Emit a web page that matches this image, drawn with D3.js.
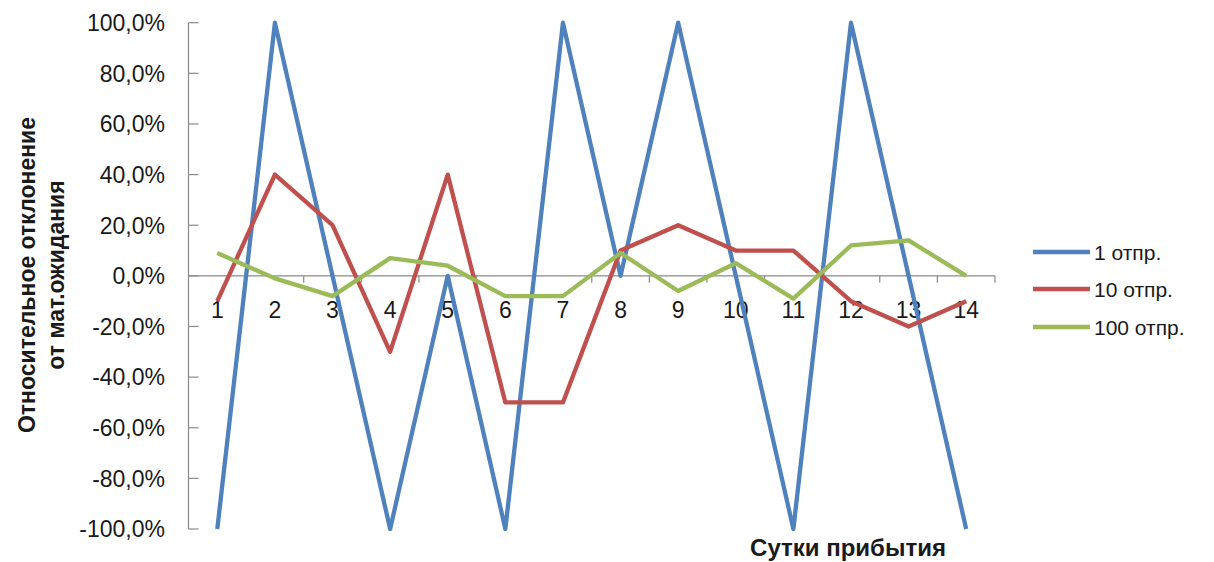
<!DOCTYPE html>
<html>
<head>
<meta charset="utf-8">
<script src="https://cdn.jsdelivr.net/npm/d3@7"></script>
<style>
  html, body { margin: 0; padding: 0; background: #fff; }
  svg { display: block; }
  text { font-family: "Liberation Sans", Arial, sans-serif; fill: #1a1a1a; }
</style>
</head>
<body>
<svg id="chart" width="1214" height="562"></svg>
<script>
// Arrival days (categories)
const days = [1, 2, 3, 4, 5, 6, 7, 8, 9, 10, 11, 12, 13, 14];

// Relative deviation from expectation, percent
const dev1 = [-100, 100, 0, -100, 0, -100, 100, 0, 100, 0, -100, 100, 0, -100];
const dev10 = [-10, 40, 20, -30, 40, -50, -50, 10, 20, 10, 10, -10, -20, -10];
const dev100 = [9, -1, -8, 7, 4, -8, -8, 9, -6, 5, -9, 12, 14, 0];

const seriesNames = ["1 отпр.", "10 отпр.", "100 отпр."];
const seriesColors = ["#4F81BD", "#C0504D", "#9BBB59"];
const yTicks = [-100, -80, -60, -40, -20, 0, 20, 40, 60, 80, 100];

const yTitleLines = ["Относительное отклонение", "от мат.ожидания"];
const xTitle = "Сутки прибытия";

const svg = d3.select("#chart");

const plot = { left: 188.5, right: 995, top: 22.7, bottom: 529 };

const x = d3.scaleBand().domain(days).range([plot.left, plot.right]);
const y = d3.scaleLinear().domain([-100, 100]).range([plot.bottom, plot.top]);

// "-20,0%" style: comma decimal separator, plain hyphen for negatives
const fmt = v => (v < 0 ? "-" : "") + Math.abs(v).toFixed(1).replace(".", ",") + "%";

// Vertical axis: line, inward ticks, labels on the left
const yAxis = svg.append("g");
yAxis.append("line")
  .attr("x1", plot.left).attr("x2", plot.left)
  .attr("y1", y(-100)).attr("y2", y(100))
  .attr("stroke", "#8a8a8a").attr("stroke-width", 1.2);
yAxis.selectAll("line.tick").data(yTicks).join("line")
  .attr("class", "tick")
  .attr("x1", plot.left).attr("x2", plot.left + 10)
  .attr("y1", d => y(d)).attr("y2", d => y(d))
  .attr("stroke", "#8a8a8a").attr("stroke-width", 1.2);
yAxis.selectAll("text").data(yTicks).join("text")
  .attr("x", 165).attr("y", d => y(d))
  .attr("dy", "0.36em")
  .attr("text-anchor", "end")
  .style("font-size", "23px")
  .text(fmt);

// Horizontal axis at zero with ticks between categories
const xAxis = svg.append("g").attr("transform", `translate(0,${y(0)})`);
xAxis.append("line")
  .attr("x1", plot.left).attr("x2", plot.right)
  .attr("stroke", "#8a8a8a").attr("stroke-width", 1.2);
const bounds = days.map(d => x(d)).concat([x(days[days.length - 1]) + x.bandwidth()]);
xAxis.selectAll("line.tick").data(bounds.slice(1)).join("line")
  .attr("class", "tick")
  .attr("x1", d => d).attr("x2", d => d)
  .attr("y1", 0).attr("y2", 7)
  .attr("stroke", "#8a8a8a").attr("stroke-width", 1.2);
xAxis.selectAll("text").data(days).join("text")
  .attr("x", d => x(d) + x.bandwidth() / 2)
  .attr("y", 42)
  .attr("text-anchor", "middle")
  .style("font-size", "23px")
  .text(d => d);

// Series lines
const line = d3.line()
  .x((v, i) => x(days[i]) + x.bandwidth() / 2)
  .y(v => y(v));

[dev1, dev10, dev100].forEach((vals, i) => {
  svg.append("path")
    .datum(vals)
    .attr("d", line)
    .attr("fill", "none")
    .attr("stroke", seriesColors[i])
    .attr("stroke-width", 4.3)
    .attr("stroke-linejoin", "round");
});

// Axis titles
svg.selectAll("text.ytitle").data(yTitleLines).join("text")
  .attr("class", "ytitle")
  .attr("transform", (d, i) => `translate(${[35, 64][i]},275) rotate(-90)`)
  .attr("text-anchor", "middle")
  .style("font-size", "23px")
  .style("font-weight", "bold")
  .text(d => d);

svg.append("text")
  .attr("x", 848).attr("y", 556)
  .attr("text-anchor", "middle")
  .style("font-size", "24px")
  .style("font-weight", "bold")
  .text(xTitle);

// Legend
const legend = svg.append("g");
const legendY = [252, 289, 327];
seriesNames.forEach((name, i) => {
  legend.append("line")
    .attr("x1", 1033).attr("x2", 1090)
    .attr("y1", legendY[i]).attr("y2", legendY[i])
    .attr("stroke", seriesColors[i]).attr("stroke-width", 4.3);
  legend.append("text")
    .attr("x", 1094).attr("y", legendY[i])
    .attr("dy", "0.36em")
    .style("font-size", "21px")
    .text(name);
});
</script>
</body>
</html>
